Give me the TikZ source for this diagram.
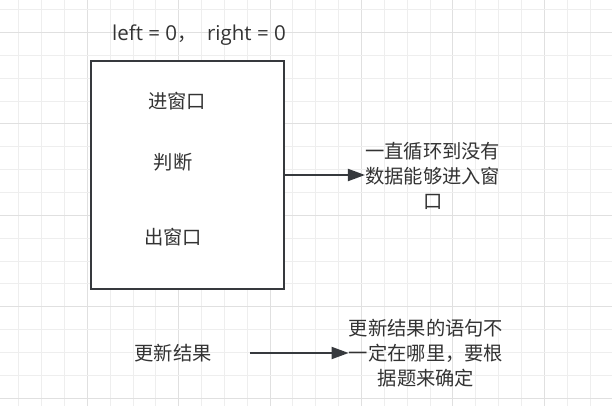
\documentclass[tikz,border=0pt]{standalone}
\usepackage{fontspec}
\newfontfamily\cjk{Noto Sans CJK SC}
\newfontfamily\lat{Open Sans}
\usetikzlibrary{arrows.meta}
\definecolor{gridminor}{HTML}{EEEEEE}
\definecolor{gridmajor}{HTML}{E0E0E0}
\definecolor{ink}{HTML}{333333}
\definecolor{edge}{HTML}{36393D}
\tikzset{
  lbl/.style={font=\cjk\fontsize{19.3}{25}\selectfont, text=ink, inner sep=0pt, align=center},
  winbox/.style={draw=edge, line width=2pt, fill=white, inner sep=0pt},
  conn/.style={draw=edge, line width=2pt, -{Triangle[length=17pt,width=12pt]}},
}
\begin{document}
\begin{tikzpicture}[x=1pt,y=-1pt]
\useasboundingbox (0,0) rectangle (612,406);
\fill[white] (0,0) rectangle (612,406);
% grid
\foreach \k in {-3,...,23} {
  \pgfmathsetmacro{\gx}{87.3+22.85*\k}
  \pgfmathtruncatemacro{\mj}{mod(\k+100,4)==0}
  \ifnum\mj=1 \draw[gridmajor, line width=1pt] (\gx,0) -- (\gx,406);
  \else \draw[gridminor, line width=1pt] (\gx,0) -- (\gx,406); \fi
}
\foreach \k in {-1,...,17} {
  \pgfmathsetmacro{\gy}{32.5+22.85*\k}
  \pgfmathtruncatemacro{\mj}{mod(\k+100,4)==0}
  \ifnum\mj=1 \draw[gridmajor, line width=1pt] (0,\gy) -- (612,\gy);
  \else \draw[gridminor, line width=1pt] (0,\gy) -- (612,\gy); \fi
}
% box
\node[winbox, minimum width=193pt, minimum height=228pt] (box) at (187.5,175) {};
\node[lbl, font=\lat\fontsize{20.5}{25}\selectfont] (title) at (199,35) {left = 0{\cjk\fontsize{19.3}{25}\selectfont ，}\ \ right = 0};
\node[lbl] (in) at (177,101.5) {进窗口};
\node[lbl] (judge) at (173,162.5) {判断};
\node[lbl] (out) at (173,237) {出窗口};
% right note
\node[lbl] (loop) at (432.7,176) {一直循环到没有\\数据能够进入窗\\口};
\draw[conn] (box.east) -- (box.east -| loop.west) ;
% update
\node[lbl] (upd) at (173,353) {更新结果};
\node[lbl] (note) at (426,353) {更新结果的语句不\\一定在哪里，要根\\据题来确定};
\draw[conn, shorten <=38pt] (upd.east) -- (upd.east -| note.west);
\end{tikzpicture}
\end{document}
